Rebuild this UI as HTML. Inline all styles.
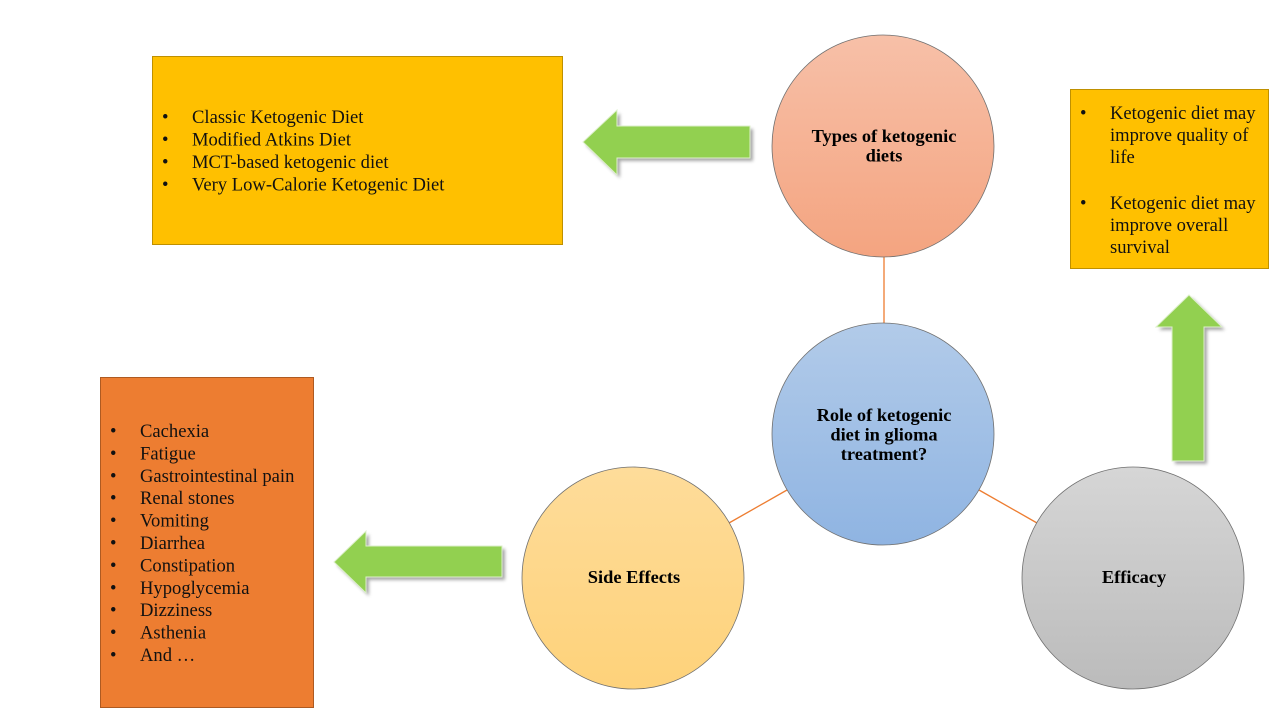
<!DOCTYPE html>
<html>
<head>
<meta charset="utf-8">
<style>
  html,body{margin:0;padding:0;background:#fff;}
  svg{display:block;}
  .t{font-family:"Liberation Serif","Times New Roman",serif;font-size:18.6px;fill:#111;}
  .b{font-family:"Liberation Serif","Times New Roman",serif;font-size:18.4px;font-weight:bold;fill:#000;}
</style>
</head>
<body>
<svg width="1280" height="720" viewBox="0 0 1280 720" xmlns="http://www.w3.org/2000/svg">
  <defs>
    <linearGradient id="gTypes" x1="0" y1="0" x2="0" y2="1">
      <stop offset="0" stop-color="#F7C0A8"/>
      <stop offset="1" stop-color="#F4A480"/>
    </linearGradient>
    <linearGradient id="gRole" x1="0" y1="0" x2="0" y2="1">
      <stop offset="0" stop-color="#B2CBE9"/>
      <stop offset="1" stop-color="#8FB4E2"/>
    </linearGradient>
    <linearGradient id="gSide" x1="0" y1="0" x2="0" y2="1">
      <stop offset="0" stop-color="#FEDC9A"/>
      <stop offset="1" stop-color="#FED27A"/>
    </linearGradient>
    <linearGradient id="gEff" x1="0" y1="0" x2="0" y2="1">
      <stop offset="0" stop-color="#D6D6D6"/>
      <stop offset="1" stop-color="#BBBBBB"/>
    </linearGradient>
    <filter id="sh" x="-20%" y="-20%" width="140%" height="140%">
      <feGaussianBlur stdDeviation="1.5"/>
    </filter>
  </defs>

  <!-- connectors -->
  <line x1="884" y1="257" x2="884" y2="323" stroke="#ED7D31" stroke-width="1.3"/>
  <line x1="787" y1="490" x2="729" y2="523" stroke="#ED7D31" stroke-width="1.3"/>
  <line x1="979" y1="490" x2="1037" y2="523" stroke="#ED7D31" stroke-width="1.3"/>

  <!-- boxes -->
  <rect x="152.5" y="56.5" width="410" height="188" fill="#FFC000" stroke="#BF9000" stroke-width="1"/>
  <rect x="1070.5" y="89.5" width="198" height="179" fill="#FFC000" stroke="#BF9000" stroke-width="1"/>
  <rect x="100.5" y="377.5" width="213" height="330" fill="#ED7D31" stroke="#AE5A21" stroke-width="1"/>

  <!-- types box text -->
  <g class="t">
    <text x="162" y="123">•</text><text x="192" y="123">Classic Ketogenic Diet</text>
    <text x="162" y="145.5">•</text><text x="192" y="145.5">Modified Atkins Diet</text>
    <text x="162" y="168">•</text><text x="192" y="168">MCT-based ketogenic diet</text>
    <text x="162" y="190.5">•</text><text x="192" y="190.5">Very Low-Calorie Ketogenic Diet</text>
  </g>

  <!-- efficacy box text -->
  <g class="t">
    <text x="1080" y="119">•</text><text x="1110" y="119">Ketogenic diet may</text>
    <text x="1110" y="141">improve quality of</text>
    <text x="1110" y="163">life</text>
    <text x="1080" y="209">•</text><text x="1110" y="209">Ketogenic diet may</text>
    <text x="1110" y="231">improve overall</text>
    <text x="1110" y="253">survival</text>
  </g>

  <!-- side effects box text -->
  <g class="t">
    <text x="110" y="437">•</text><text x="140" y="437">Cachexia</text>
    <text x="110" y="459.4">•</text><text x="140" y="459.4">Fatigue</text>
    <text x="110" y="481.8">•</text><text x="140" y="481.8">Gastrointestinal pain</text>
    <text x="110" y="504.2">•</text><text x="140" y="504.2">Renal stones</text>
    <text x="110" y="526.6">•</text><text x="140" y="526.6">Vomiting</text>
    <text x="110" y="549">•</text><text x="140" y="549">Diarrhea</text>
    <text x="110" y="571.4">•</text><text x="140" y="571.4">Constipation</text>
    <text x="110" y="593.8">•</text><text x="140" y="593.8">Hypoglycemia</text>
    <text x="110" y="616.2">•</text><text x="140" y="616.2">Dizziness</text>
    <text x="110" y="638.6">•</text><text x="140" y="638.6">Asthenia</text>
    <text x="110" y="661">•</text><text x="140" y="661">And …</text>
  </g>

  <!-- arrows: shadows -->
  <g fill="#8a8a8a" opacity="0.75" filter="url(#sh)">
    <polygon points="586,145 620,113 620,129 753,129 753,161 620,161 620,178"/>
    <polygon points="337,565 369,534 369,549 505,549 505,580 369,580 369,596"/>
    <polygon points="1192,298 1225,330 1207,330 1207,464 1175,464 1175,330 1159,330"/>
  </g>
  <!-- arrows -->
  <g fill="#92D050" stroke="#DDEFCB" stroke-width="1">
    <polygon points="583,142 617,110 617,126 750,126 750,158 617,158 617,175"/>
    <polygon points="334,562 366,531 366,546 502,546 502,577 366,577 366,593"/>
    <polygon points="1189,295 1222,327 1204,327 1204,461 1172,461 1172,327 1156,327"/>
  </g>

  <!-- circles -->
  <circle cx="883" cy="146" r="111" fill="url(#gTypes)" stroke="#6f6f6f" stroke-width="0.8"/>
  <circle cx="883" cy="434" r="111" fill="url(#gRole)" stroke="#6f6f6f" stroke-width="0.8"/>
  <circle cx="633" cy="578" r="111" fill="url(#gSide)" stroke="#6f6f6f" stroke-width="0.8"/>
  <circle cx="1133" cy="578" r="111" fill="url(#gEff)" stroke="#6f6f6f" stroke-width="0.8"/>

  <!-- circle labels -->
  <g class="b" text-anchor="middle">
    <text x="884" y="142">Types of ketogenic</text>
    <text x="884" y="161.5">diets</text>
    <text x="884" y="421">Role of ketogenic</text>
    <text x="884" y="440.5">diet in glioma</text>
    <text x="884" y="460">treatment?</text>
    <text x="634" y="583">Side Effects</text>
    <text x="1134" y="583">Efficacy</text>
  </g>
</svg>
</body>
</html>
